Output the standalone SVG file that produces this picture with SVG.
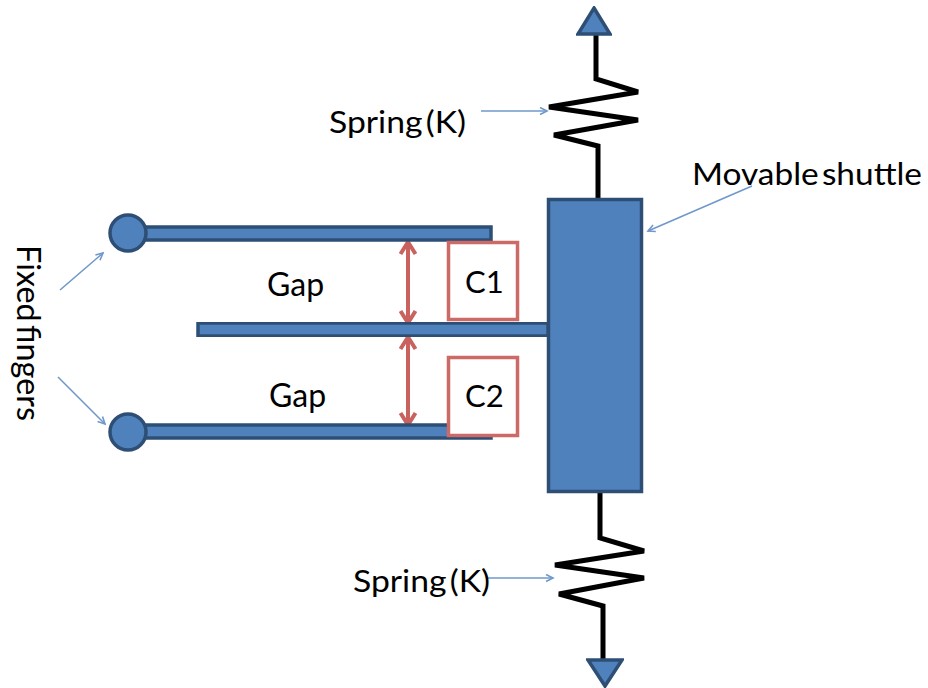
<svg xmlns="http://www.w3.org/2000/svg" width="928" height="688" viewBox="0 0 928 688">
<style>
.b{fill:#4f81bd;stroke:#2f4f75;stroke-width:3.5}
.s{fill:none;stroke:#000;stroke-width:5;stroke-linejoin:miter}
.a{fill:none;stroke:#6f98ca;stroke-width:1.6;marker-end:url(#t)}
.r{fill:none;stroke:#c9625f;stroke-width:4;marker-start:url(#h);marker-end:url(#h)}
.c{fill:#fff;stroke:#cc6a67;stroke-width:3.5}
text{font-family:"Lato","Liberation Sans",sans-serif;font-size:31px;word-spacing:-5px;fill:#000}
.soft{filter:url(#soft)}
</style>
<defs>
<filter id="soft" x="-5%" y="-5%" width="110%" height="110%"><feGaussianBlur stdDeviation="0.55"/></filter>
<marker id="t" markerUnits="userSpaceOnUse" markerWidth="10" markerHeight="10" refX="8" refY="4.5" orient="auto"><path d="M1 1L8 4.5L1 8" fill="none" stroke="#6f98ca" stroke-width="1.6"/></marker>
<marker id="h" markerUnits="userSpaceOnUse" markerWidth="20" markerHeight="20" refX="15" refY="10" orient="auto-start-reverse"><path d="M3 2.5L15 10L3 17.5" fill="none" stroke="#c9625f" stroke-width="4"/></marker>
</defs>
<g id="connectors" class="soft">
<path class="s" d="M596 34V79L638 92L549 107L638 120L554 135L598 146V199"/>
<path class="s" d="M600 492V538L644 551L555 565L644 578L559 594L603 606V660"/>
<path class="a" d="M481 111H547"/>
<path class="a" d="M487 578H553"/>
<path class="a" d="M60 290L103 253"/>
<path class="a" d="M58 377L105 424"/>
<path class="a" d="M752 186L648 231"/>
<path class="r" d="M408 242V323"/>
<path class="r" d="M408 337V425"/>
</g>
<g id="top-arrow" class="soft"><path class="b" d="M594 8L610 34H578Z" stroke-width="3"/></g>
<g id="bottom-arrow" class="soft"><path class="b" d="M588 660H622L605 686Z"/></g>
<g id="shuttle" class="soft"><rect class="b" x="548.5" y="199.5" width="93" height="292"/></g>
<g id="finger-top" class="soft"><rect class="b" x="140" y="227" width="351" height="13"/><circle class="b" cx="128" cy="233" r="18"/></g>
<g id="finger-middle" class="soft"><rect class="b" x="198" y="323" width="350" height="13"/></g>
<g id="finger-bottom" class="soft"><rect class="b" x="140" y="425" width="351" height="13"/><circle class="b" cx="128" cy="432" r="18"/></g>
<g id="c1" class="soft"><rect class="c" x="448.5" y="242.5" width="69" height="77"/></g>
<g id="c2" class="soft"><rect class="c" x="448.5" y="357.5" width="69" height="78"/></g>
<g id="labels">
<text x="465" y="293">C1</text>
<text x="465" y="407">C2</text>
<text x="329" y="133" textLength="137" lengthAdjust="spacingAndGlyphs">Spring (K)</text>
<text x="353" y="592" textLength="137" lengthAdjust="spacingAndGlyphs">Spring (K)</text>
<text x="692" y="185" textLength="230" lengthAdjust="spacingAndGlyphs">Movable shuttle</text>
<text x="267" y="296" style="font-size:32px">Gap</text>
<text x="269" y="407" style="font-size:32px">Gap</text>
<text transform="translate(17 245) rotate(90)" textLength="176" lengthAdjust="spacingAndGlyphs" style="font-size:33px">Fixed fingers</text>
</g>
</svg>
